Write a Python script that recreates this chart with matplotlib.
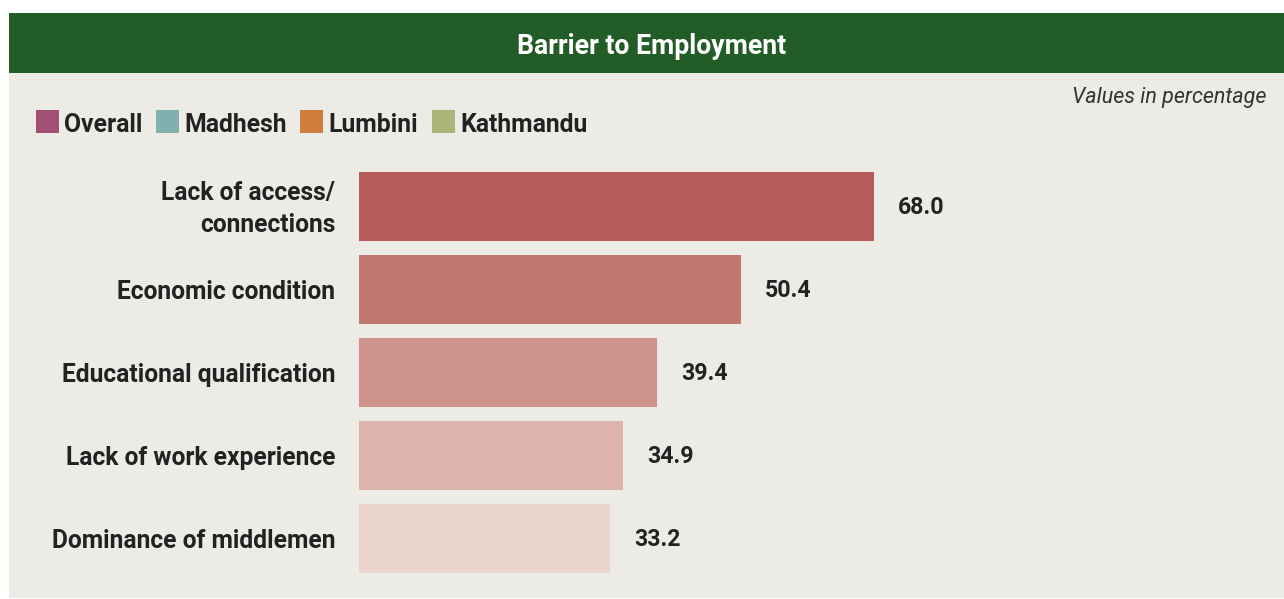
import matplotlib
matplotlib.use("Agg")
import matplotlib.pyplot as plt
from matplotlib.patches import Rectangle
from matplotlib.transforms import ScaledTranslation
from matplotlib import font_manager

# ---- data ----
categories = ["Lack of access/\nconnections", "Economic condition", "Educational qualification",
              "Lack of work experience", "Dominance of middlemen"]
values = [68.0, 50.4, 39.4, 34.9, 33.2]
bar_colors = ["#B45C5A", "#C07770", "#CE948C", "#DDB3AC", "#EBD5CF"]
legend_labels = ["Overall", "Madhesh", "Lumbini", "Kathmandu"]
legend_colors = ["#A34F73", "#82B0AE", "#CF7D3C", "#ABB57A"]
title = "Barrier to Employment"
note = "Values in percentage"

names = {f.name for f in font_manager.fontManager.ttflist}
FONT = "Roboto" if "Roboto" in names else "DejaVu Sans"
plt.rcParams["font.family"] = [FONT, "DejaVu Sans"]

W, H = 1284, 599
fig = plt.figure(figsize=(W / 100, H / 100), dpi=100, facecolor="white")

def fx(x):
    return x / W

def fy(y):
    return 1 - y / H

# panel background
fig.patches.append(Rectangle((fx(9), fy(598)), fx(1284) - fx(9), fy(13) - fy(598),
                             transform=fig.transFigure, facecolor="#EDEBE6", edgecolor="none", zorder=-2))
# header
fig.patches.append(Rectangle((fx(9), fy(73)), fx(1284) - fx(9), fy(13) - fy(73),
                             transform=fig.transFigure, facecolor="#225C26", edgecolor="none", zorder=-1))
fig.text(fx(652), fy(46), title, color="white", fontsize=19.2, fontweight="bold",
         ha="center", va="center")
fig.text(fx(1266), fy(98), note, color="#333333", fontsize=15.5, style="italic",
         fontweight="normal", ha="right", va="center")

# legend
lx = [36, 156, 300, 432]
for x0, lab, col in zip(lx, legend_labels, legend_colors):
    fig.patches.append(Rectangle((fx(x0), fy(133)), fx(23), 23 / H,
                                 transform=fig.transFigure, facecolor=col, edgecolor="none", zorder=2))
    fig.text(fx(x0 + 28), fy(125), lab, color="#222222", fontsize=17.8, fontweight="bold",
             ha="left", va="center")

# bars axes
ax = fig.add_axes([fx(359), fy(580), fx(1284) - fx(359), fy(165) - fy(580)])
ax.set_zorder(5)
ax.set_facecolor("none")
y = list(range(len(categories)))
ax.barh(y, values, height=69 / 83, color=bar_colors, edgecolor="none")
ax.set_xlim(0, 925 / (515 / 68.0))
ax.set_ylim(4.5, -0.5)
ax.set_yticks(y)
ax.set_yticklabels(categories, fontsize=17.7, fontweight="bold", color="#222222",
                   linespacing=1.4)
ax.tick_params(axis="y", length=0, pad=17)
ax.set_xticks([])
for s in ax.spines.values():
    s.set_visible(False)
first = ax.get_yticklabels()[0]
first.set_transform(first.get_transform() + ScaledTranslation(0, 0.04, fig.dpi_scale_trans))
for yi, v in zip(y, values):
    ax.annotate(f"{v:.1f}", (v, yi), xytext=(17, -1), textcoords="offset points",
                ha="left", va="center", fontsize=16.7, fontweight="bold", color="#222222")

fig.savefig("out.png", dpi=100, facecolor="white")
